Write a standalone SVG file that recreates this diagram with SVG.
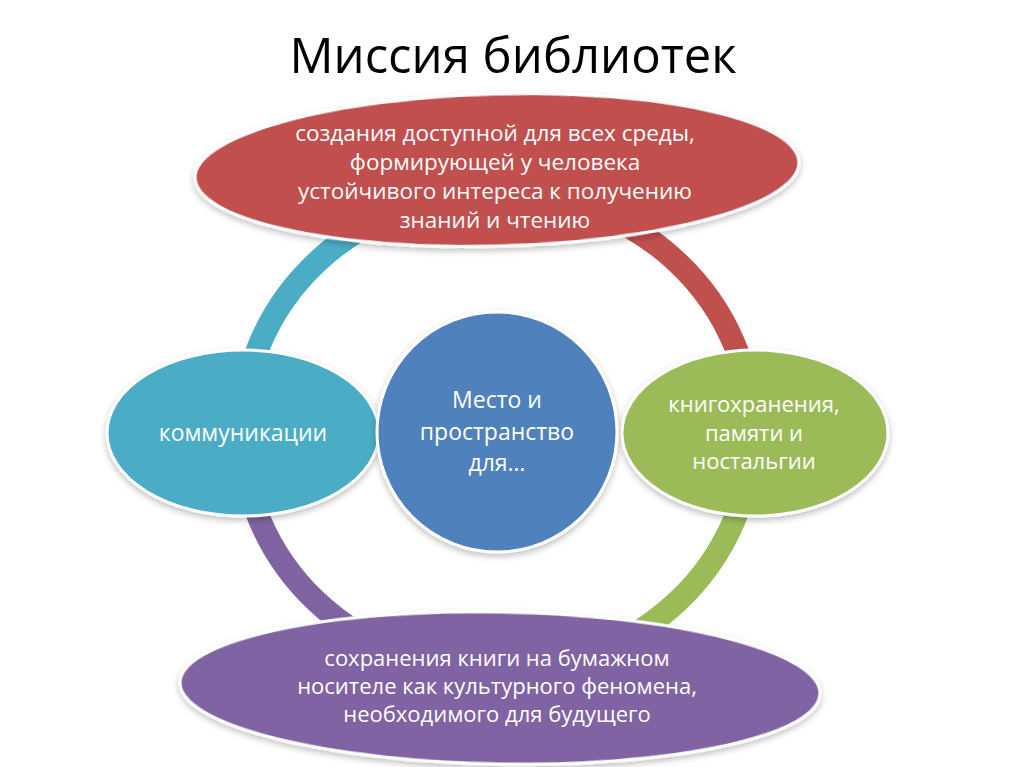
<svg xmlns="http://www.w3.org/2000/svg" width="1024" height="767" viewBox="0 0 1024 767">
<defs>
<filter id="sh" x="-10%" y="-10%" width="120%" height="125%">
<feDropShadow dx="0" dy="3" stdDeviation="3" flood-color="#000" flood-opacity="0.25"/>
</filter>
</defs>
<style>
.t{font-family:"Open Sans","Liberation Sans",sans-serif;fill:#fff;text-anchor:middle}
.node{stroke:#fff;stroke-width:3;filter:url(#sh)}
.ring{fill:none;stroke-width:23}
</style>
<rect width="1024" height="767" fill="#fff"/>
<text x="513" y="73" font-family="Open Sans, Liberation Sans, sans-serif" font-size="49" text-anchor="middle" fill="#000">Миссия библиотек</text>
<g id="connectors">
<path class="ring" stroke="#4bacc6" d="M242,432 A255,240 0 0 1 497,192"/>
<path class="ring" stroke="#c0504d" d="M497,192 A255,240 0 0 1 752,432"/>
<path class="ring" stroke="#9bbb59" d="M752,432 A255,240 0 0 1 497,672"/>
<path class="ring" stroke="#8064a2" d="M497,672 A255,240 0 0 1 242,432"/>
</g>
<g id="n-top">
<ellipse class="node" cx="497" cy="170" rx="302" ry="76" fill="#c0504d" transform="rotate(-1.5 497 170)"/>
<text class="t" font-size="22.5"><tspan x="495" y="141">создания доступной для всех среды,</tspan><tspan x="495" y="170">формирующей у человека</tspan><tspan x="495" y="199">устойчивого интереса к получению</tspan><tspan x="495" y="228">знаний и чтению</tspan></text>
</g>
<g id="n-left">
<ellipse class="node" cx="243" cy="433" rx="136" ry="83" fill="#4bacc6"/>
<text class="t" font-size="23" x="243" y="441">коммуникации</text>
</g>
<g id="n-right">
<ellipse class="node" cx="755" cy="433" rx="133" ry="83" fill="#9bbb59"/>
<text class="t" font-size="22"><tspan x="754" y="412">книгохранения,</tspan><tspan x="754" y="441">памяти и</tspan><tspan x="754" y="469">ностальгии</tspan></text>
</g>
<g id="n-bottom">
<ellipse class="node" cx="500" cy="688" rx="320" ry="76" fill="#8064a2" transform="rotate(1 500 688)"/>
<text class="t" font-size="22"><tspan x="497" y="666">сохранения книги на бумажном</tspan><tspan x="497" y="694">носителе как культурного феномена,</tspan><tspan x="497" y="722">необходимого для будущего</tspan></text>
</g>
<g id="n-center">
<circle class="node" cx="497" cy="432" r="120" fill="#4f81bd"/>
<text class="t" font-size="23"><tspan x="497" y="408">Место и</tspan><tspan x="497" y="440">пространство</tspan><tspan x="497" y="471">для…</tspan></text>
</g>
</svg>
